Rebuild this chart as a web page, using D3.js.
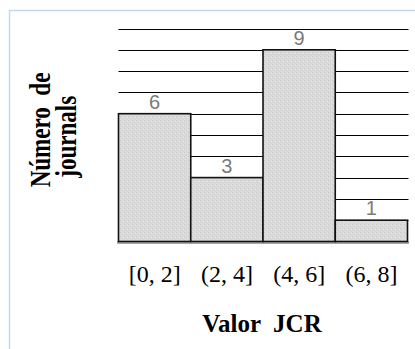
<!DOCTYPE html>
<html><head><meta charset="utf-8">
<script src="https://cdn.jsdelivr.net/npm/d3@7"></script>
<style>html,body{margin:0;padding:0;background:#fff;}svg{display:block;}</style>
</head><body>
<script>
const categories = ["[0, 2]", "(2, 4]", "(4, 6]", "(6, 8]"];
const values = [6, 3, 9, 1];
const gridTicks = [1,2,3,4,5,6,7,8,9,10];
const xTitle = "Valor  JCR";
const yTitle = ["Número  de", "journals"];

const W = 415, H = 349;
const svg = d3.select("body").append("svg").attr("width", W).attr("height", H);

const defs = svg.append("defs");
const pat = defs.append("pattern").attr("id","stip").attr("width",4).attr("height",4).attr("patternUnits","userSpaceOnUse");
pat.append("rect").attr("width",4).attr("height",4).attr("fill","#dadada");
pat.append("rect").attr("x",0).attr("y",0).attr("width",1).attr("height",1).attr("fill","#c8c8c8");
pat.append("rect").attr("x",2).attr("y",2).attr("width",1).attr("height",1).attr("fill","#cfcfcf");
pat.append("rect").attr("x",3).attr("y",1).attr("width",1).attr("height",1).attr("fill","#e6e6e6");

// frame
svg.append("path").attr("d","M9.5,349 V10.5 H415").attr("fill","none").attr("stroke","#c6d6f2").attr("stroke-width",1.5);

const x = d3.scaleBand().domain(categories).range([118.5, 407.5]).padding(0);
const y = d3.scaleLinear().domain([0, 10]).range([241.5, 28.5]);

// gridlines
svg.append("g").selectAll("line").data(gridTicks).join("line")
  .attr("x1", 118.5).attr("x2", 408.5)
  .attr("y1", d => Math.round(y(d)) + 0.5).attr("y2", d => Math.round(y(d)) + 0.5)
  .attr("stroke", "#000").attr("stroke-width", 1);

// baseline
svg.append("line").attr("x1",117).attr("x2",409).attr("y1",y(0)+1).attr("y2",y(0)+1)
  .attr("stroke","#a8a8a8").attr("stroke-width",3);

// bars
svg.append("g").selectAll("rect").data(values).join("rect")
  .attr("x", (d,i) => x(categories[i]))
  .attr("y", d => y(d))
  .attr("width", x.bandwidth())
  .attr("height", d => y(0) - y(d))
  .attr("fill", "url(#stip)")
  .attr("stroke", "#111").attr("stroke-width", 1.6);

// value labels
svg.append("g").selectAll("text").data(values).join("text")
  .attr("x", (d,i) => x(categories[i]) + x.bandwidth()/2)
  .attr("y", d => y(d) - 5)
  .attr("text-anchor","middle")
  .attr("font-family","'Liberation Sans', Arial, sans-serif")
  .attr("font-size", 20)
  .attr("fill","#7a7a7a")
  .text(d => d);

// x tick labels
const xAxis = d3.axisBottom(x).tickSize(0).tickPadding(0);
const gx = svg.append("g").attr("transform","translate(0,265)").call(xAxis);
gx.select(".domain").remove();
gx.selectAll("text")
  .attr("font-family","'Liberation Serif', 'Times New Roman', serif")
  .attr("font-size", 24).attr("fill","#000").attr("dy","0.71em");

// x title
svg.append("text").attr("x", 262).attr("y", 332).attr("text-anchor","middle")
  .attr("font-family","'Liberation Serif', 'Times New Roman', serif")
  .attr("font-weight","bold").attr("font-size",25).attr("fill","#000")
  .style("white-space","pre").text(xTitle);

// y title
const yt = svg.append("text").attr("transform","translate(50,130) rotate(-90) scale(0.96,1.2)")
  .attr("text-anchor","middle")
  .attr("font-family","'Liberation Serif', 'Times New Roman', serif")
  .attr("font-weight","bold").attr("font-size",24).attr("fill","#000")
  .style("white-space","pre");
yt.append("tspan").attr("x",0).attr("y",0).text(yTitle[0]);
yt.append("tspan").attr("x",-7).attr("y",22).text(yTitle[1]);
</script>
</body></html>
